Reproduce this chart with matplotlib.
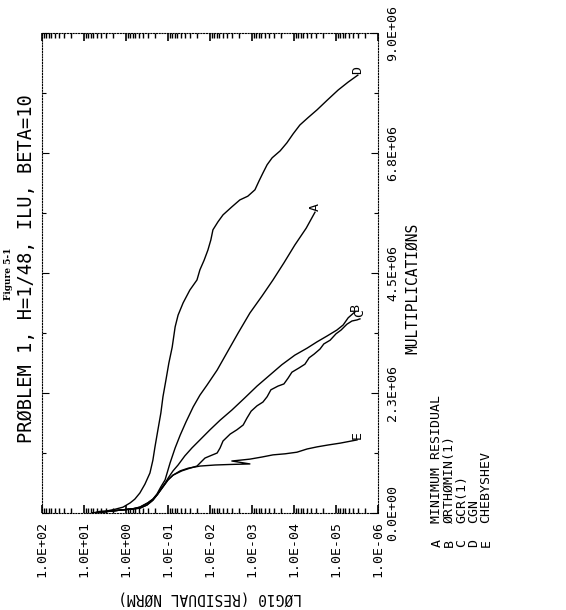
import numpy as np
import matplotlib
matplotlib.use('Agg')
import matplotlib.pyplot as plt
from matplotlib.ticker import FixedLocator, LogLocator, NullFormatter

d_logr = [0.79, 0.62, 0.45, 0.26, 0.07, -0.10, -0.21, -0.33, -0.45, -0.57, -0.64, -0.69,
          -0.76, -0.83, -0.88, -0.95, -1.02, -1.10, -1.17, -1.24, -1.36, -1.52, -1.69, -1.76,
          -1.86, -1.95, -2.02, -2.07, -2.19, -2.31, -2.52, -2.71, -2.90, -3.07, -3.17, -3.26,
          -3.36, -3.48, -3.67, -3.83, -3.98, -4.14, -4.33, -4.55, -4.79, -5.05, -5.29, -5.52]
d_mult = [0.0, 0.03, 0.04, 0.07, 0.11, 0.19, 0.26, 0.375, 0.54, 0.75, 0.99, 1.24,
          1.56, 1.875, 2.18, 2.49, 2.81, 3.11, 3.49, 3.71, 3.94, 4.18, 4.37, 4.56,
          4.74, 4.93, 5.12, 5.31, 5.46, 5.59, 5.74, 5.87, 5.94, 6.06, 6.23, 6.375,
          6.53, 6.66, 6.79, 6.94, 7.11, 7.275, 7.41, 7.56, 7.74, 7.93, 8.08, 8.21]

a_logr = [0.79, 0.43, 0.07, -0.14, -0.33, -0.52, -0.64, -0.74, -0.83, -0.93, -1.05, -1.17,
          -1.29, -1.43, -1.60, -1.76, -1.93, -2.17, -2.40, -2.67, -2.95, -3.24, -3.5, -3.76,
          -4.02, -4.29, -4.5]
a_mult = [0.0, 0.03, 0.06, 0.075, 0.11, 0.19, 0.26, 0.36, 0.49, 0.62, 0.94, 1.22,
          1.46, 1.71, 1.99, 2.21, 2.40, 2.68, 3.0, 3.375, 3.75, 4.07, 4.37, 4.69,
          5.025, 5.34, 5.64]

b_logr = [0.79, 0.43, 0.07, -0.14, -0.33, -0.52, -0.64, -0.74, -0.83, -0.93, -1.02, -1.12,
          -1.24, -1.40, -1.57, -1.76, -2.0, -2.24, -2.52, -2.83, -3.12, -3.43, -3.71, -4.02,
          -4.31, -4.55, -4.79, -5.02, -5.17, -5.29, -5.45]
b_mult = [0.0, 0.03, 0.06, 0.075, 0.11, 0.19, 0.26, 0.34, 0.45, 0.56, 0.675, 0.79,
          0.90, 1.07, 1.22, 1.37, 1.56, 1.74, 1.93, 2.16, 2.38, 2.59, 2.78, 2.96,
          3.09, 3.21, 3.32, 3.43, 3.525, 3.66, 3.77]

c_logr = [0.79, 0.43, 0.07, -0.14, -0.33, -0.50, -0.64, -0.76, -0.88, -1.0, -1.12, -1.33,
          -1.52, -1.69, -1.81, -1.88, -2.0, -2.17, -2.24, -2.31, -2.48, -2.64, -2.79, -2.88,
          -2.98, -3.12, -3.26, -3.36, -3.45, -3.62, -3.76, -3.86, -3.95, -4.12, -4.26, -4.36,
          -4.48, -4.62, -4.71, -4.86, -5.0, -5.12, -5.26, -5.38, -5.5, -5.57]
c_mult = [0.0, 0.03, 0.06, 0.075, 0.09, 0.15, 0.24, 0.36, 0.49, 0.62, 0.71, 0.79,
          0.84, 0.88, 0.975, 1.03, 1.07, 1.125, 1.22, 1.35, 1.48, 1.56, 1.65, 1.78,
          1.91, 2.01, 2.08, 2.18, 2.31, 2.38, 2.42, 2.53, 2.64, 2.72, 2.79, 2.91,
          2.98, 3.075, 3.17, 3.24, 3.36, 3.43, 3.54, 3.60, 3.62, 3.64]

e_logr = [0.79, 0.43, 0.07, -0.14, -0.33, -0.50, -0.64, -0.76, -0.88, -1.0, -1.12, -1.29,
          -1.48, -1.76, -2.12, -2.48, -2.95, -2.52, -2.71, -2.95, -3.24, -3.5, -3.79, -4.07,
          -4.31, -4.55, -4.81, -5.10, -5.5]
e_mult = [0.0, 0.03, 0.06, 0.075, 0.09, 0.15, 0.24, 0.36, 0.49, 0.62, 0.71, 0.79,
          0.84, 0.88, 0.90, 0.91, 0.92, 0.975, 0.99, 1.01, 1.05, 1.09, 1.11, 1.14,
          1.2, 1.24, 1.275, 1.31, 1.37]

curves = [('A', a_logr, a_mult), ('B', b_logr, b_mult), ('C', c_logr, c_mult),
          ('D', d_logr, d_mult), ('E', e_logr, e_mult)]
legend_names = ['MINIMUM RESIDUAL', 'ØRTHØMIN(1)', 'GCR(1)', 'CGN', 'CHEBYSHEV']

x_exps = [2, 1, 0, -1, -2, -3, -4, -5, -6]
y_ticks = [0, 2.25e6, 4.5e6, 6.75e6, 9.0e6]
y_ticklabels = ['0.0E+00', '2.3E+06', '4.5E+06', '6.8E+06', '9.0E+06']

mono = 'DejaVu Sans Mono'

fig = plt.figure(figsize=(5.66, 6.10), dpi=100)
ax = fig.add_axes([42 / 566, 97 / 610, 336 / 566, 480 / 610])

for name, lr, m in curves:
    x = 10.0 ** np.array(lr)
    y = np.array(m) * 1e6
    ax.plot(x, y, color='black', lw=1.0, solid_joinstyle='round')
    ax.annotate(name, (x[-1], y[-1]), xytext=(0, 1), textcoords='offset points',
                rotation=90, rotation_mode='anchor', ha='left', va='center',
                family=mono, fontsize=9.5)

ax.set_xscale('log')
ax.set_xlim(1e2, 1e-6)
ax.set_ylim(0, 9e6)

ax.xaxis.set_major_locator(FixedLocator([10.0 ** e for e in x_exps]))
ax.xaxis.set_minor_locator(LogLocator(base=10, subs=np.arange(2, 10), numticks=50))
ax.xaxis.set_minor_formatter(NullFormatter())
ax.set_xticklabels(['1.0E%+03d' % e for e in x_exps], rotation=90, family=mono, fontsize=9.5)
ax.tick_params(axis='x', which='both', direction='in', top=True, bottom=True, pad=6)
ax.tick_params(axis='x', which='major', length=6, width=1.2)
ax.tick_params(axis='x', which='minor', length=3.5, width=1.0)

ax.yaxis.set_major_locator(FixedLocator(y_ticks))
ax.yaxis.set_minor_locator(FixedLocator([1.125e6, 3.375e6, 5.625e6, 7.875e6]))
ax.set_yticklabels(y_ticklabels, rotation=90, va='center', family=mono, fontsize=9.5)
ax.tick_params(axis='y', which='both', direction='in', left=True, right=True,
               labelleft=False, labelright=True, pad=6)
ax.tick_params(axis='y', which='major', length=5, width=0.8)
ax.tick_params(axis='y', which='minor', length=3, width=0.8)

for sp in ax.spines.values():
    sp.set_linestyle((0, (1, 1.5)))
    sp.set_linewidth(0.8)

fig.text(413 / 566, 1 - 288 / 610, 'MULTIPLICATIØNS', rotation=90, ha='center', va='center',
         family=mono, fontsize=10.5)
fig.text(210 / 566, 1 - 598 / 610, 'LØG10 (RESIDUAL NØRM)', rotation=180, ha='center',
         va='center', family=mono, fontsize=10.5)
fig.text(27 / 566, 1 - 269 / 610, 'PRØBLEM 1, H=1/48, ILU, BETA=10', rotation=90,
         ha='center', va='center', family=mono, fontsize=13.5)
fig.text(9 / 566, 1 - 274 / 610, 'Figure 5-1', rotation=90, ha='center', va='center',
         family='DejaVu Serif', fontweight='bold', fontsize=6.5)

for i, (letter, nm) in enumerate(zip('ABCDE', legend_names)):
    xf = (437 + 12.2 * i) / 566
    fig.text(xf, 1 - 543 / 610, letter, rotation=90, ha='center', va='center',
             family=mono, fontsize=9.5)
    fig.text(xf, 1 - 523 / 610, nm, rotation=90, ha='center', va='bottom',
             family=mono, fontsize=9.5)

fig.savefig('out.png', dpi=100)
